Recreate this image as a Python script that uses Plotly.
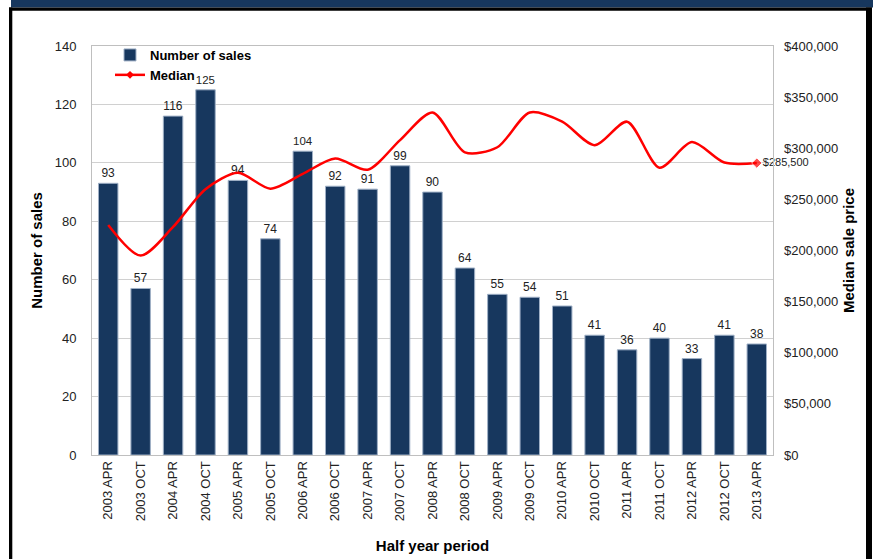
import plotly.graph_objects as go

periods = ["2003 APR", "2003 OCT", "2004 APR", "2004 OCT", "2005 APR", "2005 OCT",
           "2006 APR", "2006 OCT", "2007 APR", "2007 OCT", "2008 APR", "2008 OCT",
           "2009 APR", "2009 OCT", "2010 APR", "2010 OCT", "2011 APR", "2011 OCT",
           "2012 APR", "2012 OCT", "2013 APR"]
sales = [93, 57, 116, 125, 94, 74, 104, 92, 91, 99, 90, 64, 55, 54, 51, 41, 36, 40, 33, 41, 38]
median = [225000, 195000, 223000, 260000, 276000, 260500, 275000, 290000, 279000, 308000,
          335000, 296000, 301000, 335000, 326000, 303000, 326000, 281000, 306000, 286000, 285500]

FONT = "Liberation Sans, Arial, sans-serif"
NAVY = "#17375E"

W, H = 878, 559
L, R, T, B = 92, 773, 46, 455


def px(x):
    return (x - L) / (R - L)


def py(y):
    return (B - y) / (B - T)


fig = go.Figure()
fig.add_trace(go.Bar(
    x=periods, y=sales, name="<b>Number of sales</b>",
    marker=dict(color=NAVY, line=dict(color="#9fb0c6", width=1)),
    width=0.6,
    text=[str(v) for v in sales], textposition="outside",
    textfont=dict(family=FONT, size=12, color="#222222"),
    cliponaxis=False,
))

n = len(median)
fig.add_trace(go.Scatter(
    x=periods, y=median, name="Median", yaxis="y2", showlegend=False,
    mode="lines+markers+text",
    line=dict(color="#ff0000", width=2.5, shape="spline", smoothing=0.8),
    marker=dict(symbol="diamond", color="#ff0000", size=[0] * (n - 1) + [8]),
    text=[""] * (n - 1) + ["${:,}".format(median[-1])],
    textposition="middle right",
    textfont=dict(family=FONT, size=11, color="#222222"),
    cliponaxis=False,
))
# legend entry for the median line
fig.add_trace(go.Scatter(
    x=[None], y=[None], name="<b>Median</b>", yaxis="y2",
    mode="lines+markers",
    line=dict(color="#ff0000", width=2.5),
    marker=dict(symbol="diamond", color="#ff0000", size=6),
))

shapes = [
    dict(type="rect", xref="paper", yref="paper", x0=px(11), x1=px(873), y0=py(0), y1=py(7.5),
         fillcolor=NAVY, line=dict(width=0), layer="above"),
    dict(type="rect", xref="paper", yref="paper", x0=px(9), x1=px(872), y0=py(7.5), y1=py(10.7),
         fillcolor="black", line=dict(width=0), layer="above"),
    dict(type="rect", xref="paper", yref="paper", x0=px(9), x1=px(12.3), y0=py(7.5), y1=py(559),
         fillcolor="black", line=dict(width=0), layer="above"),
    dict(type="rect", xref="paper", yref="paper", x0=px(866), x1=px(872), y0=py(7.5), y1=py(559),
         fillcolor="black", line=dict(width=0), layer="above"),
]

fig.update_layout(
    width=W, height=H,
    margin=dict(l=L, r=W - R, t=T, b=H - B),
    paper_bgcolor="white", plot_bgcolor="white",
    font=dict(family=FONT, size=13, color="#222222"),
    bargap=0.4,
    showlegend=True,
    legend=dict(x=px(110), y=py(40), xanchor="left", yanchor="top",
                bgcolor="rgba(0,0,0,0)", font=dict(family=FONT, size=13, color="black"),
                tracegroupgap=0),
    xaxis=dict(
        type="category", categoryorder="array", categoryarray=periods,
        range=[-0.5, len(periods) - 0.5],
        tickangle=-90, showgrid=False, automargin=False,
        showline=True, linecolor="#bfbfbf", mirror=True,
        ticks="", tickfont=dict(family=FONT, size=13, color="#222222"),
        title=dict(text="<b>Half year period</b>", font=dict(family=FONT, size=15, color="black"),
                   standoff=20),
    ),
    yaxis=dict(
        range=[0, 140], dtick=20, showgrid=True, gridcolor="#d0d0d0", automargin=False,
        showline=True, linecolor="#bfbfbf", mirror=True, zeroline=False,
        ticks="", ticklabelstandoff=12, tickfont=dict(family=FONT, size=13, color="#222222"),
        title=dict(text="<b>Number of sales</b>", font=dict(family=FONT, size=15, color="black"),
                   standoff=8),
    ),
    yaxis2=dict(
        range=[0, 400000], dtick=50000, overlaying="y", side="right", automargin=False,
        showgrid=False, zeroline=False, tickformat="$,.0f",
        ticks="", ticklabelstandoff=10, tickfont=dict(family=FONT, size=13, color="#222222"),
        title=dict(text="<b>Median sale price</b>", font=dict(family=FONT, size=15, color="black"),
                   standoff=6),
    ),
    shapes=shapes,
)

fig.write_html("out.html")
